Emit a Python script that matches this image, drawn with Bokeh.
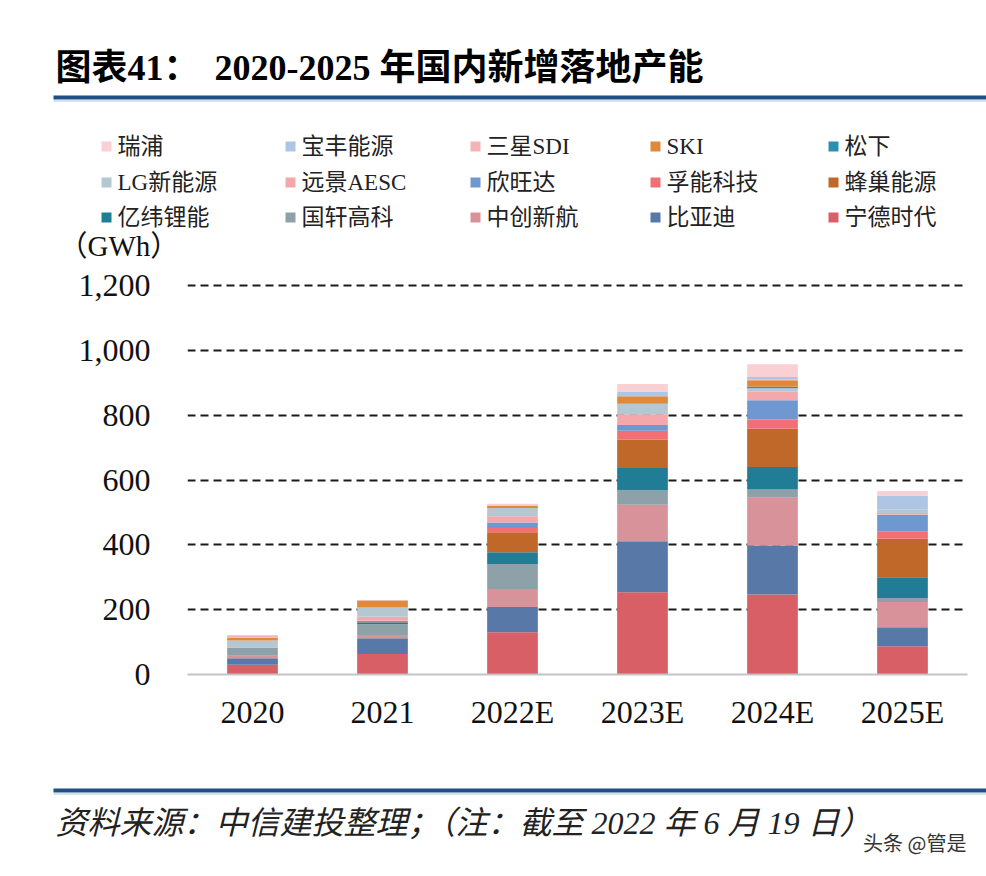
from bokeh.plotting import figure
from bokeh.models import Range1d, FixedTicker, NumeralTickFormatter, ColumnDataSource
from bokeh.layouts import column
from bokeh.embed import file_html
from bokeh.resources import INLINE
from bokeh.core.properties import value

# ---------------- data ----------------
years = ["2020", "2021", "2022E", "2023E", "2024E", "2025E"]

# stack order, bottom -> top
series = ["宁德时代", "比亚迪", "中创新航", "国轩高科", "亿纬锂能", "蜂巢能源", "孚能科技",
          "欣旺达", "远景AESC", "LG新能源", "松下", "SKI", "三星SDI", "宝丰能源", "瑞浦"]

catl = [30, 63, 130, 254, 247, 87]
byd = [20, 49, 78, 157, 151, 59]
calb = [8, 10, 56, 113, 147, 78]
gotion = [25, 33, 77, 44, 26, 12]
eve = [0, 6, 36, 69, 69, 64]
svolt = [0, 0, 62, 87, 118, 119]
farasis = [0, 5, 13, 28, 29, 23]
sunwoda = [0, 0, 17, 18, 59, 51]
envision = [0, 12, 19, 33, 26, 5]
lges = [22, 29, 26, 32, 11, 10]
panasonic = [0, 0, 0, 0, 5, 0]
ski = [8, 21, 7, 23, 20, 0]
samsung = [8, 2, 0, 0, 3, 0]
baofeng = [0, 0, 0, 15, 7, 44]
rept = [0, 0, 6, 23, 39, 14]

values = [catl, byd, calb, gotion, eve, svolt, farasis, sunwoda, envision, lges,
          panasonic, ski, samsung, baofeng, rept]

colors = ["#d95f66", "#5878a8", "#d8939a", "#8ea1a9", "#217d96", "#c0672a", "#f26f73",
          "#6e98cf", "#f5a8ac", "#b5c8d1", "#2b8fb0", "#e0893a", "#f4b4b6", "#aec6e4", "#f9d0d3"]

y_ticks = [0, 200, 400, 600, 800, 1000, 1200]

title_a = "图表41："
title_b = "2020-2025 年国内新增落地产能"
unit_label = "（GWh）"
source_note = "资料来源：中信建投整理；（注：截至 2022 年 6 月 19 日）"
watermark = "头条 @管是"

FONT = "Liberation Serif, Noto Sans CJK SC"
W = 986


def blank(h, top):
    f = figure(width=W, height=h, x_range=Range1d(0, W), y_range=Range1d(top + h, top),
               output_backend="svg", toolbar_location=None, min_border=0,
               x_axis_type=None, y_axis_type=None, frame_align=False)
    f.outline_line_color = None
    return f


def txt(f, x, y, t, size, style="normal", color="#111111", font=FONT, align="left"):
    f.text(x=[x], y=[y], text=[t], text_font=value(font), text_font_size=size,
           text_font_style=style, text_baseline="middle", text_align=align, text_color=color)


# ---------------- header ----------------
HEAD_H = 264
head = blank(HEAD_H, 0)
txt(head, 55, 67, title_a, "36px", "bold", "#000000")
txt(head, 214, 67, title_b, "36px", "bold", "#000000")
head.segment(x0=[53], y0=[97], x1=[W], y1=[97], line_color="#1e4f85", line_width=4)
head.segment(x0=[53], y0=[100.5], x1=[W], y1=[100.5], line_color="#a9c4e0", line_width=1)

# legend (reverse of stack order, 5 per row)
leg_names = series[::-1]
leg_colors = colors[::-1]
col_x = [106, 290, 475, 655, 833]
row_y = [146, 182, 217]
lx, ly, tx = [], [], []
for i, name in enumerate(leg_names):
    r, c = divmod(i, 5)
    lx.append(col_x[c])
    ly.append(row_y[r])
    tx.append(col_x[c] + 11)
head.rect(x=lx, y=ly, width=10, height=10, fill_color=leg_colors, line_color=None)
head.text(x=tx, y=ly, text=leg_names, text_font=value(FONT), text_font_size="23px",
          text_baseline="middle", text_align="left", text_color="#222222")
txt(head, 58, 245, unit_label, "29px", color="#111111")

# ---------------- main chart ----------------
MAIN_H = 496
FT_IN, FB_IN = 16, 86                      # frame top/bottom borders inside main
px_per_unit = 389.0 / 1200.0               # vertical pixels per GWh
frame_h = MAIN_H - FT_IN - FB_IN
n = len(years)
main = figure(width=W, height=MAIN_H, x_range=Range1d(-0.5, n - 0.5),
              y_range=Range1d(0, frame_h / px_per_unit),
              output_backend="svg", toolbar_location=None, frame_align=False,
              min_border_left=187, min_border_right=19, min_border_top=FT_IN, min_border_bottom=FB_IN)
main.outline_line_color = None

data = {"x": list(range(n))}
for name, vals in zip(series, values):
    data[name] = vals
src = ColumnDataSource(data)
main.vbar_stack(series, x="x", width=0.39, color=colors, source=src, line_color=None)

main.xaxis.ticker = FixedTicker(ticks=list(range(n)))
main.xaxis.major_label_overrides = {i: y for i, y in enumerate(years)}
main.xaxis.axis_line_color = "#c4c4c4"
main.xaxis.axis_line_width = 2
main.xaxis.major_tick_line_color = None
main.xaxis.minor_tick_line_color = None
main.xaxis.major_label_standoff = 13
main.xaxis.major_label_text_font = FONT
main.xaxis.major_label_text_font_size = "32px"
main.xaxis.major_label_text_color = "#111111"

main.yaxis.ticker = FixedTicker(ticks=y_ticks)
main.yaxis.formatter = NumeralTickFormatter(format="0,0")
main.yaxis.axis_line_color = None
main.yaxis.major_tick_line_color = None
main.yaxis.minor_tick_line_color = None
main.yaxis.major_label_standoff = 31
main.yaxis.major_label_text_font = FONT
main.yaxis.major_label_text_font_size = "32px"
main.yaxis.major_label_text_color = "#111111"

main.xgrid.visible = False
main.ygrid.ticker = FixedTicker(ticks=y_ticks[1:])
main.ygrid.grid_line_color = "#1a1a1a"
main.ygrid.grid_line_dash = "8 5"
main.ygrid.grid_line_width = 2

# ---------------- footer ----------------
FOOT_H = 876 - HEAD_H - MAIN_H
foot = blank(FOOT_H, HEAD_H + MAIN_H)
foot.segment(x0=[53], y0=[790], x1=[W], y1=[790], line_color="#1e4f85", line_width=4)
foot.segment(x0=[53], y0=[793.5], x1=[W], y1=[793.5], line_color="#a9c4e0", line_width=1)
txt(foot, 55, 822, source_note, "32px", "italic", "#222222")
txt(foot, 966, 842, watermark, "20px", color="#333333", font="Noto Sans CJK SC", align="right")

layout = column(head, main, foot, spacing=0)
open("out.html", "w").write(file_html(layout, INLINE))
